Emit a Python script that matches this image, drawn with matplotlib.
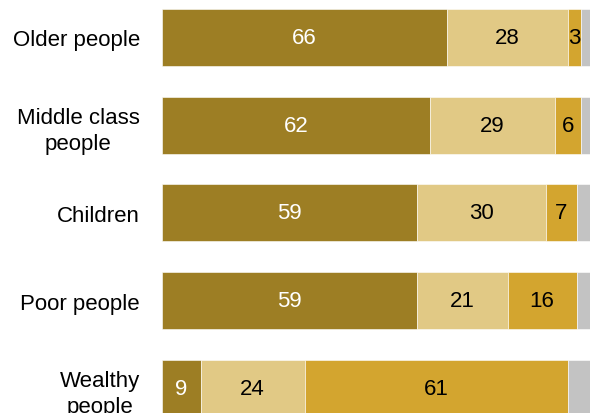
import matplotlib.pyplot as plt
import numpy as np

plt.rcParams['font.family'] = ['Liberation Sans', 'DejaVu Sans']

# data
groups = ['Older people', 'Middle class\npeople', 'Children', 'Poor people', 'Wealthy\npeople']
too_little = [66, 62, 59, 59, 9]
about_right = [28, 29, 30, 21, 24]
too_much = [3, 6, 7, 16, 61]
no_answer = [3, 3, 4, 4, 6]

series = [too_little, about_right, too_much, no_answer]
colors = ['#9D7E24', '#E1C985', '#D3A52F', '#C3C3C3']
text_colors = ['white', 'black', 'black', None]

fig = plt.figure(figsize=(5.9, 4.14), dpi=100)
ax = fig.add_axes([162 / 590, 0, 1 - 162 / 590, 1])

y = np.arange(len(groups))
left = np.zeros(len(groups))
for vals, col, tc in zip(series, colors, text_colors):
    vals = np.array(vals, dtype=float)
    ax.barh(y, vals, left=left, height=0.65, color=col, edgecolor='white', linewidth=0.4)
    if tc is not None:
        for yi, v, l in zip(y, vals, left):
            ax.text(l + v / 2, yi, f'{int(v)}', ha='center', va='center',
                    color=tc, fontsize=16)
    left += vals

ax.set_xlim(0, 99.1)
ax.set_ylim(4.282, -0.439)
ax.set_yticks(y)
ax.set_yticklabels(groups, fontsize=16, linespacing=1.35, multialignment='center')
ax.tick_params(axis='y', length=0, pad=16)
ax.set_xticks([])
for s in ax.spines.values():
    s.set_visible(False)

fig.savefig('out.png', dpi=100)
